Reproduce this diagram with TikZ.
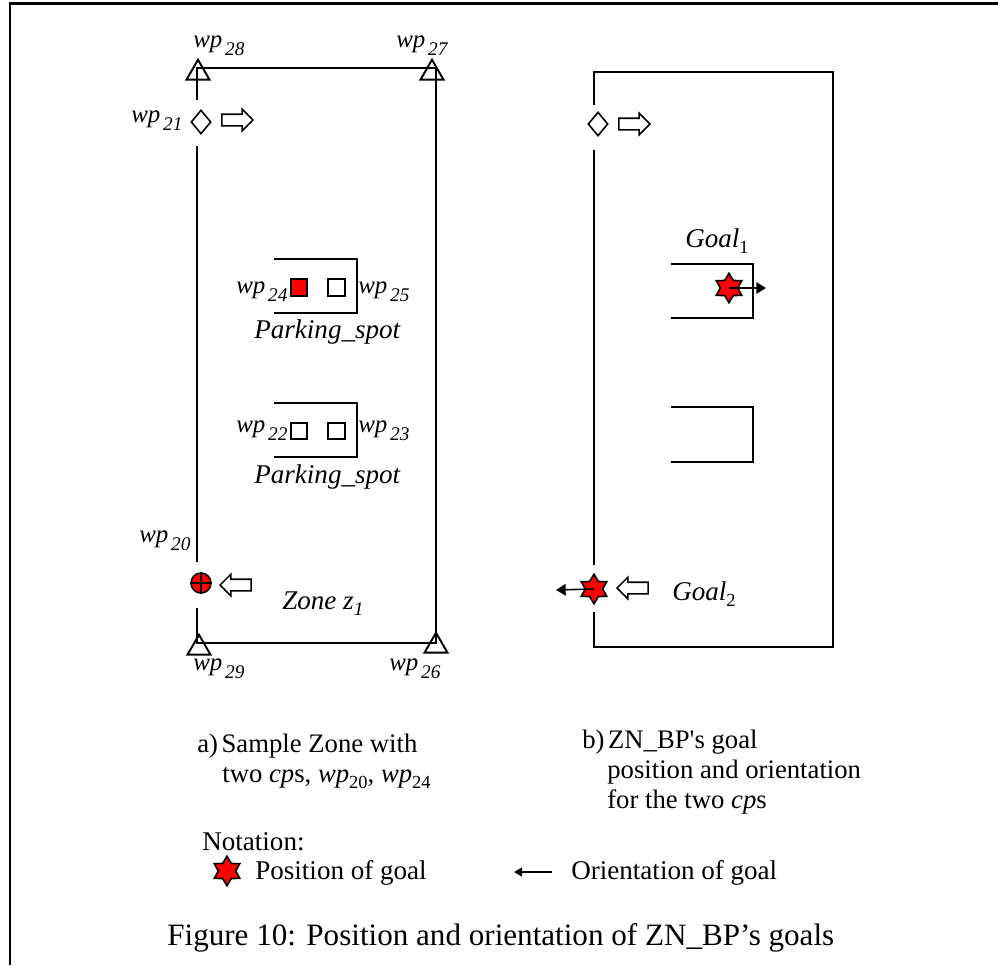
\documentclass[tikz,border=0pt]{standalone}
\usepackage{fontspec}
\setmainfont{Liberation Serif}
\usepackage{tikz}
\usetikzlibrary{arrows.meta,shapes.geometric,shapes.arrows}

\newcommand{\wpsub}[1]{\textit{wp\kern1.5pt\raisebox{-0.36em}{\fontsize{11}{11}\selectfont #1}}}
\newcommand{\wpup}[1]{\textit{wp}\raisebox{-0.25em}{\fontsize{10.5}{11}\selectfont #1}}

\begin{document}
\begin{tikzpicture}[x=0.02cm, y=-0.02cm,
  lbl/.style={anchor=base west, inner sep=0pt, font=\fontsize{15.4}{17}\selectfont},
  sublbl/.style={anchor=base west, inner sep=0pt, font=\fontsize{15.2}{17}\selectfont},
  wplbl/.style={anchor=base west, inner sep=0pt, font=\fontsize{14.2}{16}\selectfont},
  capt/.style={anchor=base west, inner sep=0pt, font=\fontsize{17.7}{20}\selectfont},
  zone/.style={draw, line width=1.1pt},
  tri/.style={draw, regular polygon, regular polygon sides=3, minimum size=0.53cm, inner sep=0pt, line width=1.1pt},
  dia/.style={draw, diamond, minimum width=0.4cm, minimum height=0.48cm, inner sep=0pt, line width=0.9pt},
  blk/.style={draw, single arrow, minimum height=0.62cm, single arrow head extend=0.1cm, inner xsep=0pt, inner ysep=0.1cm, line width=0.9pt},
  blkl/.style={blk, shape border rotate=180},
  wpbox/.style={draw, minimum size=0.33cm, inner sep=0pt, line width=1pt},
  goalstar/.style={draw, fill=red, star, star points=6, star point ratio=1.7, minimum size=0.59cm, inner sep=0pt, line width=0.9pt},
  arr/.style={-{Stealth[length=5.5pt,width=6.5pt,inset=0pt]}, line width=0.9pt},
  arrs/.style={-{Stealth[length=4.5pt,width=5pt,inset=0pt]}, line width=0.8pt},
]
\useasboundingbox (0,0) rectangle (998,965);

% --- Frame ---
\coordinate (fa) at (10,965);
\coordinate (fb) at (10,3);
\coordinate (fc) at (998,3);
\draw[line width=1.7pt] (fa) -- (fb) -- (fc);

% --- Left zone ---
\coordinate (la) at (197,100);
\coordinate (lb) at (197,68);
\coordinate (lc) at (436,68);
\coordinate (ld) at (436,643);
\coordinate (le) at (197,643);
\coordinate (lf) at (197,608);
\coordinate (lg) at (197,562);
\coordinate (lh) at (197,146);
\draw[zone] (la) -- (lb) -- (lc) -- (ld) -- (le) -- (lf);
\draw[zone] (lg) -- (lh);

\node[tri] (t28) at (198,73) {};
\node[tri] (t27) at (432,73) {};
\node[tri] (t29) at (199,648) {};
\node[tri] (t26) at (436,646) {};
\node[dia] (d21) at (201,122) {};
\node[blk] (a21) at (234.5,120) {};
\node[draw, circle, fill=red, minimum size=0.4cm, inner sep=0pt, line width=0.9pt] (c20) at (201,583) {};
\draw[line width=0.8pt] (c20.north) -- (c20.south);
\draw[line width=0.8pt] (c20.west) -- (c20.east);
\node[blkl] (a20) at (238.5,585) {};

\node[wplbl] (l28) at (193,47) {\wpsub{28}};
\node[wplbl] (l27) at (396,47) {\wpsub{27}};
\node[wplbl] (l21) at (131,122) {\wpsub{21}};
\node[wplbl] (l20) at (139,542) {\wpsub{20}};
\node[wplbl] (l29) at (193,670) {\wpsub{29}};
\node[wplbl] (l26) at (389,670) {\wpsub{26}};
\node[lbl] (lzone) at (282,609) {\textit{Zone z\raisebox{-0.25em}{\fontsize{11}{11}\selectfont 1}}};

% parking spots
\coordinate (pa) at (274,259);
\coordinate (pb) at (357,259);
\coordinate (pc) at (357,313);
\coordinate (pd) at (274,313);
\draw[zone] (pa) -- (pb) -- (pc) -- (pd);
\coordinate (qa) at (274,403);
\coordinate (qb) at (357,403);
\coordinate (qc) at (357,457);
\coordinate (qd) at (274,457);
\draw[zone] (qa) -- (qb) -- (qc) -- (qd);

\node[wpbox, fill=red] (b24) at (299,287.5) {};
\node[wpbox] (b25) at (336.5,287.5) {};
\node[wpbox] (b22) at (299,431) {};
\node[wpbox] (b23) at (336.5,431) {};

\node[wplbl] (l24) at (236,293) {\wpsub{24}};
\node[wplbl] (l25) at (358,293) {\wpsub{25}};
\node[wplbl] (l22) at (236,432) {\wpsub{22}};
\node[wplbl] (l23) at (358,432) {\wpsub{23}};
\node[lbl] (s1) at (254,338) {\textit{Parking\_spot}};
\node[lbl] (s2) at (254,483) {\textit{Parking\_spot}};

% --- Right zone ---
\coordinate (ra) at (594,105);
\coordinate (rb) at (594,72);
\coordinate (rc) at (833,72);
\coordinate (rd) at (833,647);
\coordinate (re) at (594,647);
\coordinate (rf) at (594,612);
\coordinate (rg) at (594,565);
\coordinate (rh) at (594,150);
\draw[zone] (ra) -- (rb) -- (rc) -- (rd) -- (re) -- (rf);
\draw[zone] (rg) -- (rh);

\node[dia] (d2) at (598,124) {};
\node[blk] (a2) at (631.5,124) {};
\node[blkl] (a3) at (635.5,588) {};

\coordinate (ua) at (671,264);
\coordinate (ub) at (753,264);
\coordinate (uc) at (753,318);
\coordinate (ud) at (671,318);
\draw[zone] (ua) -- (ub) -- (uc) -- (ud);
\coordinate (va) at (671,407);
\coordinate (vb) at (753,407);
\coordinate (vc) at (753,462);
\coordinate (vd) at (671,462);
\draw[zone] (va) -- (vb) -- (vc) -- (vd);

\node[goalstar] (g1) at (729,288) {};
\coordinate (o1) at (766,288);
\draw[arr] (g1.center) -- (o1);
\node[goalstar] (g2) at (594,589) {};
\coordinate (o2) at (556,590);
\draw[arr] (g2.center) -- (o2);

\node[lbl] (lg1) at (685,247) {\textit{Goal}\raisebox{-0.25em}{\fontsize{10.5}{11}\selectfont 1}};
\node[lbl] (lg2) at (672,600) {\textit{Goal}\raisebox{-0.25em}{\fontsize{10.5}{11}\selectfont 2}};

% --- Captions ---
\node[sublbl] (ca) at (197,752) {a)\kern2pt Sample Zone with};
\node[sublbl] (cb) at (222,782) {two \textit{cp}s, \wpup{20}, \wpup{24}};
\node[sublbl] (cc) at (582,748) {b)\kern2pt ZN\_BP\textquotesingle s goal};
\node[sublbl] (cd) at (607,778) {position and orientation};
\node[sublbl] (ce) at (607,808) {for the two \textit{cp}s};

% --- Notation ---
\node[lbl] (nt) at (202,850) {Notation:};
\node[goalstar] (g3) at (227,871) {};
\node[lbl] (np) at (255,879) {Position of goal};
\coordinate (nb) at (552,872);
\coordinate (nc) at (514,872);
\draw[arrs] (nb) -- (nc);
\node[lbl] (no) at (571,879) {Orientation of goal};

\node[capt] (fig) at (167,945) {Figure 10: Position and orientation of ZN\_BP’s goals};
\end{tikzpicture}
\end{document}
